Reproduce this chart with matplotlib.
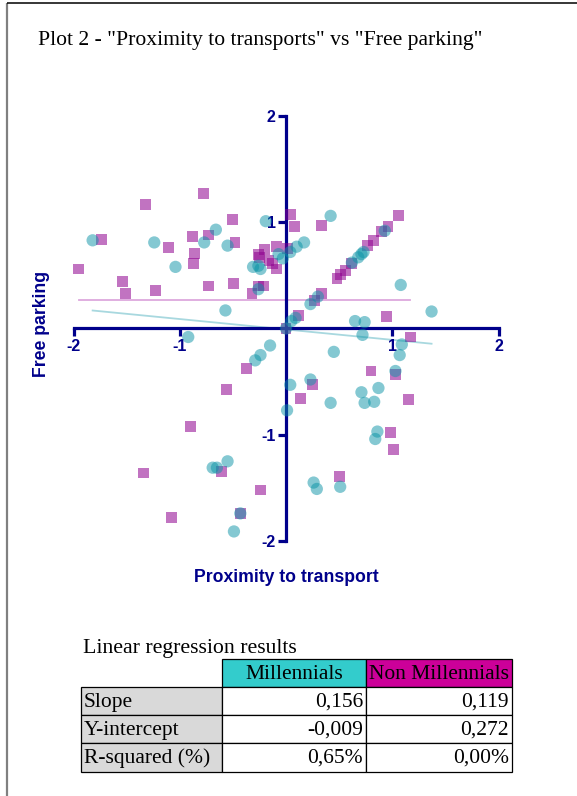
import matplotlib
matplotlib.use("Agg")
import matplotlib.pyplot as plt
from matplotlib.patches import Rectangle

W, H = 577, 796

# Survey scores: Millennials
mill_x = [-1.82, -1.24, -1.04, -0.77, -0.66, -0.55, -0.57, -0.19, -0.31, -0.26,
          -0.24, -0.26, -0.07, -0.03, 0.04, 0.10, 0.17, 0.42, 0.23, 0.30,
          0.09, 0.05, 0.00, 0.62, 0.68, 0.71, 0.73, 0.93, 1.08, 1.37,
          0.65, 0.74, 0.72, 1.09, 1.07, 0.45, 1.03, 0.04, 0.23, 0.01,
          0.42, 0.71, 0.87, 0.74, 0.83, 0.86, 0.84, 0.26, 0.29, 0.51,
          -0.92, -0.15, -0.24, -0.29, -0.55, -0.69, -0.65, -0.43, -0.49]
mill_y = [0.83, 0.81, 0.58, 0.81, 0.93, 0.78, 0.17, 1.01, 0.58, 0.59,
          0.56, 0.37, 0.70, 0.66, 0.72, 0.77, 0.81, 1.06, 0.23, 0.30,
          0.10, 0.07, 0.00, 0.62, 0.67, 0.70, 0.72, 0.92, 0.41, 0.16,
          0.07, 0.06, -0.06, -0.15, -0.25, -0.22, -0.40, -0.53, -0.48, -0.77,
          -0.70, -0.60, -0.56, -0.70, -0.69, -0.97, -1.04, -1.45, -1.51, -1.49,
          -0.08, -0.16, -0.25, -0.30, -1.25, -1.31, -1.31, -1.74, -1.91]

# Survey scores: Non Millennials
nonmill_x = [-1.95, -1.74, -1.32, -0.78, -1.54, -1.51, -1.23, -1.11, -0.88, -0.86,
             -0.87, -0.73, -0.50, -0.48, -0.73, -0.49, -0.32, -0.26, -0.21, -0.26,
             -0.20, -0.09, -0.13, -0.09, -0.16, 0.01, -0.25, 0.04, 0.08, 0.33,
             1.06, 0.96, 0.90, 0.82, 0.77, 0.62, 0.56, 0.51, 0.48, 0.33,
             0.27, 0.12, 0.95, 0.00, 1.17, 0.80, 1.03, 0.25, 0.14, 1.15,
             0.98, 1.01, 0.50, -0.37, -0.56, -0.90, -1.34, -0.61, -0.24, -0.43,
             -1.08]
nonmill_y = [0.56, 0.84, 1.17, 1.27, 0.44, 0.33, 0.36, 0.76, 0.87, 0.71,
             0.61, 0.88, 1.03, 0.81, 0.40, 0.42, 0.33, 0.40, 0.40, 0.70,
             0.74, 0.77, 0.61, 0.56, 0.64, 0.75, 0.67, 1.07, 0.96, 0.97,
             1.06, 0.96, 0.91, 0.83, 0.78, 0.61, 0.55, 0.51, 0.47, 0.33,
             0.26, 0.12, 0.11, 0.00, -0.08, -0.40, -0.43, -0.53, -0.66, -0.67,
             -0.98, -1.14, -1.39, -0.38, -0.57, -0.92, -1.36, -1.35, -1.52, -1.74,
             -1.78]

# Regression summary
groups = ["Millennials", "Non Millennials"]
stat_names = ["Slope", "Y-intercept", "R-squared (%)"]
slopes = [0.156, 0.119]
intercepts = [-0.009, 0.272]
r_squared = [0.65, 0.00]
# gradient of each fitted line as drawn on the scatter
line_gradients = [-0.098, 0.0]

axis_ticks = [-2, -1, 1, 2]

NAVY = "#00008B"
TEAL = "#0A93A6"
PURPLE = "#8E008E"
TEAL_LINE = "#A8D8DF"
PURPLE_LINE = "#DDA8DD"
HEAD_COLORS = ["#33CCCC", "#CC0099"]
SANS = ["Liberation Sans", "DejaVu Sans"]
SERIF = ["Liberation Serif", "DejaVu Serif"]

fig = plt.figure(figsize=(W / 100, H / 100), dpi=100)

# scatter axes, centred cross-hair style spines
lim = 2.2
scale = 106.25
cx, cy = 286.0, 328.5
left_px = cx - lim * scale
top_px = cy - lim * scale
size_px = 2 * lim * scale
ax = fig.add_axes([left_px / W, 1 - (top_px + size_px) / H, size_px / W, size_px / H])
ax.set_xlim(-lim, lim)
ax.set_ylim(-lim, lim)
ax.patch.set_visible(False)

for side in ("top", "right"):
    ax.spines[side].set_visible(False)
for side in ("left", "bottom"):
    sp = ax.spines[side]
    sp.set_position(("data", 0))
    sp.set_bounds(-2, 2)
    sp.set_color(NAVY)
    sp.set_linewidth(2.3)
    sp.set_capstyle("projecting")

ax.set_xticks(axis_ticks)
ax.set_yticks(axis_ticks)
ax.set_xticklabels([str(t) for t in axis_ticks], fontfamily=SANS, fontweight="bold",
                   fontsize=11.5, color=NAVY)
ax.set_yticklabels([str(t) for t in axis_ticks], fontfamily=SANS, fontweight="bold",
                   fontsize=11.5, color=NAVY)
ax.tick_params(direction="out", length=6, width=2.3, color=NAVY, pad=1.5)

# fitted lines across each group's range
for xs, b, m, c in ((mill_x, intercepts[0], line_gradients[0], TEAL_LINE),
                    (nonmill_x, intercepts[1], line_gradients[1], PURPLE_LINE)):
    x0, x1 = min(xs), max(xs)
    ax.plot([x0, x1], [b + m * x0, b + m * x1], color=c, lw=1.3, zorder=1)

ax.scatter(nonmill_x, nonmill_y, marker="s", s=62, color=PURPLE, alpha=0.55,
           edgecolors="none", zorder=3, clip_on=False)
ax.scatter(mill_x, mill_y, marker="o", s=78, color=TEAL, alpha=0.5,
           edgecolors="none", zorder=4, clip_on=False)

# overlay in pixel coordinates for titles, frame and table
ov = fig.add_axes([0, 0, 1, 1])
ov.set_xlim(0, W)
ov.set_ylim(H, 0)
ov.axis("off")

ov.plot([7, 7], [3, H], color="#808080", lw=1.6, solid_capstyle="butt")
ov.plot([7, W], [3, 3], color="black", lw=1.1, solid_capstyle="butt")

ov.text(38, 40, 'Plot 2 - "Proximity to transports" vs "Free parking"', fontfamily=SERIF,
        fontsize=15.6, ha="left", va="center", color="black")
ov.text(286, 577, "Proximity to transport", fontfamily=SANS, fontweight="bold",
        fontsize=12.7, ha="center", va="center", color=NAVY)
ov.text(41, 324, "Free parking", fontfamily=SANS, fontweight="bold", fontsize=12.7,
        ha="center", va="center", rotation=90, color=NAVY)

ov.text(83, 648, "Linear regression results", fontfamily=SERIF, fontsize=15.7,
        ha="left", va="center", color="black")

col_edges = [81, 221.7, 366, 511.7]
row_edges = [659.3, 687.3, 715, 743.3, 771.7]

def fmt(v, digits, pct=False):
    s = f"{v:.{digits}f}".replace(".", ",")
    return s + "%" if pct else s

cells = [[fmt(v, 3) for v in slopes],
         [fmt(v, 3) for v in intercepts],
         [fmt(v, 2, pct=True) for v in r_squared]]

# header row
for j, g in enumerate(groups):
    x0, x1 = col_edges[j + 1], col_edges[j + 2]
    y0, y1 = row_edges[0], row_edges[1]
    ov.add_patch(Rectangle((x0, y0), x1 - x0, y1 - y0, facecolor=HEAD_COLORS[j],
                           edgecolor="black", lw=0.9))
    ov.text((x0 + x1) / 2, (y0 + y1) / 2 + 1, g, fontfamily=SERIF, fontsize=15.5,
            ha="center", va="center", color="black")

# body rows
for i, name in enumerate(stat_names):
    y0, y1 = row_edges[i + 1], row_edges[i + 2]
    ov.add_patch(Rectangle((col_edges[0], y0), col_edges[1] - col_edges[0], y1 - y0,
                           facecolor="#D9D9D9", edgecolor="black", lw=0.9))
    ov.text(col_edges[0] + 3, (y0 + y1) / 2 + 1, name, fontfamily=SERIF, fontsize=15.5,
            ha="left", va="center", color="black")
    for j in range(len(groups)):
        x0, x1 = col_edges[j + 1], col_edges[j + 2]
        ov.add_patch(Rectangle((x0, y0), x1 - x0, y1 - y0, facecolor="white",
                               edgecolor="black", lw=0.9))
        ov.text(x1 - 3, (y0 + y1) / 2 + 1, cells[i][j], fontfamily=SERIF, fontsize=15.5,
                ha="right", va="center", color="black")

fig.savefig("out.png", dpi=100)
